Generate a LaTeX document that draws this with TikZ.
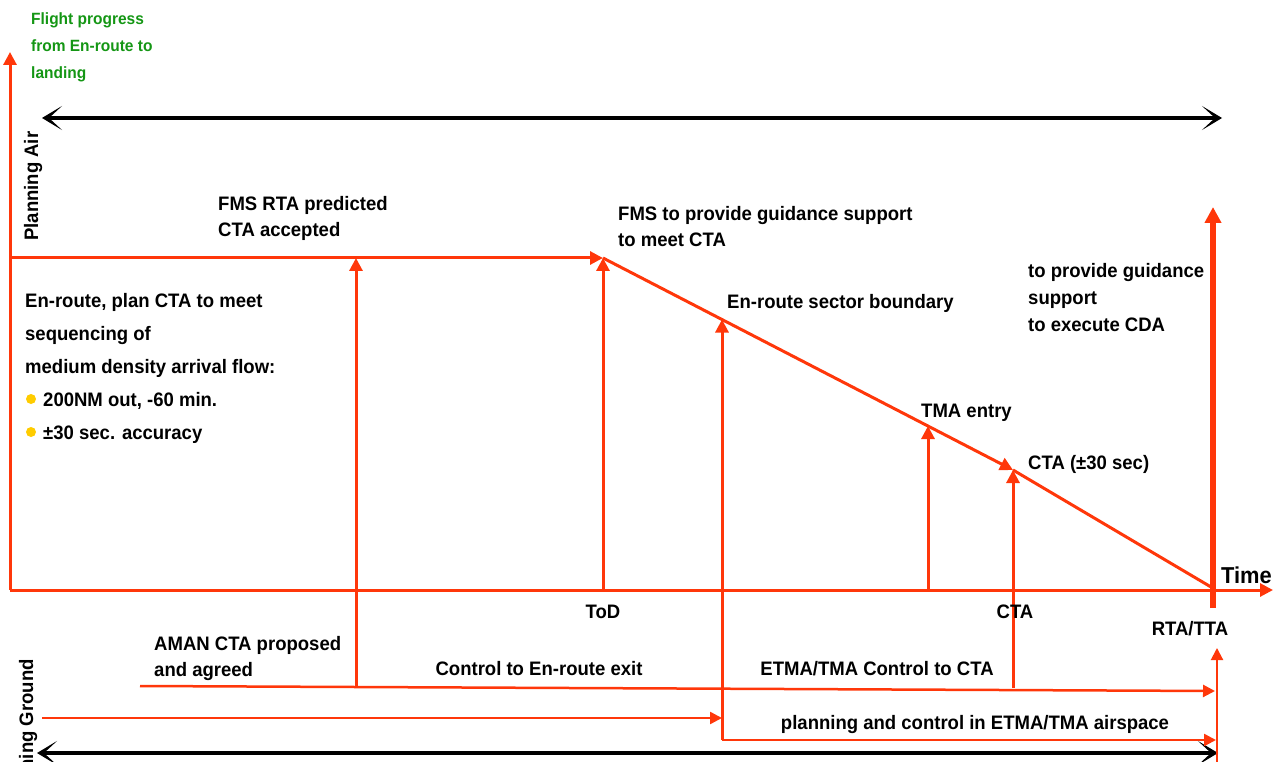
\documentclass[tikz,border=0pt]{standalone}
\usepackage{fontspec}
\setmainfont{Liberation Sans}[FakeStretch=0.95]
\usetikzlibrary{arrows.meta}
\definecolor{cred}{RGB}{255,55,10}
\definecolor{cgreen}{RGB}{20,150,20}
\definecolor{cyellow}{RGB}{255,204,0}
\tikzset{
  redline/.style={draw=cred, line width=3pt},
  redarr/.style={redline, -{Triangle[length=13pt,width=13pt]}},
  thinred/.style={draw=cred, line width=2.5pt, -{Triangle[length=12pt,width=12pt]}},
  blackarr/.style={draw=black, line width=4pt, {Stealth[length=20pt,width=24pt,inset=13pt]}-{Stealth[length=20pt,width=24pt,inset=13pt]}},
  lbl/.style={font=\fontsize{19.5}{26}\selectfont\bfseries, inner sep=0pt, align=left, anchor=north west},
  lblb/.style={font=\fontsize{19.5}{26}\selectfont\bfseries, inner sep=0pt},
  bullet/.style={circle, fill=cyellow, minimum size=10pt, inner sep=0pt}
}
\begin{document}
\begin{tikzpicture}[x=1pt,y=-1pt]
\useasboundingbox (0,0) rectangle (1275,762);
\clip (0,0) rectangle (1275,762);

% coordinates
\coordinate (origin) at (10,590);
\coordinate (ytop) at (10,52);
\coordinate (xend) at (1273,590);
\coordinate (pstart) at (10,258);
\coordinate (tod) at (603,258);
\coordinate (ctap) at (1013,470);
\coordinate (rta) at (1211,587);
\coordinate (a1b) at (356,688);
\coordinate (a1t) at (356,258);
\coordinate (todb) at (603,590);
\coordinate (ebb) at (722,740);
\coordinate (ebt) at (722,319.5);
\coordinate (tmab) at (928,590);
\coordinate (tmat) at (928,426);
\coordinate (ctab) at (1013,688);
\coordinate (rtab) at (1213,608);
\coordinate (rtat) at (1213,207);
\coordinate (aman1) at (140,686);
\coordinate (aman2) at (1215,691);
\coordinate (g1) at (42,718);
\coordinate (g2) at (722,718);
\coordinate (gend) at (1216,740);
\coordinate (tb) at (1217,765);
\coordinate (tt) at (1217,648);
\coordinate (bt1) at (42,118);
\coordinate (bt2) at (1222,118);
\coordinate (bb1) at (37,753);
\coordinate (bb2) at (1218,753);

% black double arrows
\draw[blackarr] (bt1) -- (bt2);
\draw[blackarr] (bb1) -- (bb2);

% axes
\draw[redarr] (origin) -- (ytop);
\draw[redarr] (origin) -- (xend);

% air planning path
\draw[redarr] (pstart) -- (tod);
\draw[redarr] (tod) -- (ctap);
\draw[redline] (ctap) -- (rta);

% vertical arrows
\draw[redarr] (a1b) -- (a1t);
\draw[redarr] (todb) -- (tod);
\draw[redarr] (ebb) -- (ebt);
\draw[redarr] (tmab) -- (tmat);
\draw[redarr] (ctab) -- (ctap);
\draw[draw=cred, line width=5.5pt, -{Triangle[length=16pt,width=16pt]}] (rtab) -- (rtat);

% ground lines
\draw[thinred] (aman1) -- (aman2);
\draw[thinred] (g1) -- (g2);
\draw[thinred] (ebb) -- (gend);
\draw[draw=cred, line width=2pt, -{Triangle[length=12pt,width=12pt]}] (tb) -- (tt);

% labels
\node[lbl, text=cgreen, font=\fontsize{16.3}{27}\selectfont\bfseries] (flight) at (31,12.5) {Flight progress\\from En-route to\\landing};
\node[lblb, rotate=90, anchor=base west] (pair) at (38,241) {Planning Air};
\node[lblb, rotate=90, anchor=base east] (pground) at (33,659) {Planning Ground};
\node[lbl] (fmsrta) at (218,196) {FMS RTA predicted\\CTA accepted};
\node[lbl] (fmsguide) at (618,206) {FMS to provide guidance support\\to meet CTA};
\node[lbl, font=\fontsize{19.5}{33}\selectfont\bfseries] (enroute) at (25,293) {En-route, plan CTA to meet\\sequencing of\\medium density arrival flow:\\\hspace*{18pt}200NM out, -60 min.\\\hspace*{18pt}±30 sec. accuracy};
\node[bullet] (b1) at (31,399) {};
\node[bullet] (b2) at (31,432) {};
\node[lblb, anchor=base west] (esb) at (727,308.5) {En-route sector boundary};
\node[lbl, font=\fontsize{19.5}{27}\selectfont\bfseries] (cda) at (1028,263) {to provide guidance\\support\\to execute CDA};
\node[lblb, anchor=base west] (tmaentry) at (921,417) {TMA entry};
\node[lblb, anchor=base west] (ctapm) at (1028,469.5) {CTA (±30 sec)};
\node[lblb, anchor=base west, font=\fontsize{23}{26}\selectfont\bfseries] (time) at (1221,583) {Time};
\node[lblb, anchor=base] (todl) at (603,618) {ToD};
\node[lblb, anchor=base] (ctal) at (1015,618.5) {CTA};
\node[lblb, anchor=base] (rtal) at (1190,635) {RTA/TTA};
\node[lbl] (aman) at (154,636) {AMAN CTA proposed\\and agreed};
\node[lblb, anchor=base] (ctrlexit) at (539,675) {Control to En-route exit};
\node[lblb, anchor=base] (etma) at (877,675) {ETMA/TMA Control to CTA};
\node[lblb, anchor=base] (plan) at (975,729.5) {planning and control in ETMA/TMA airspace};
\end{tikzpicture}
\end{document}
